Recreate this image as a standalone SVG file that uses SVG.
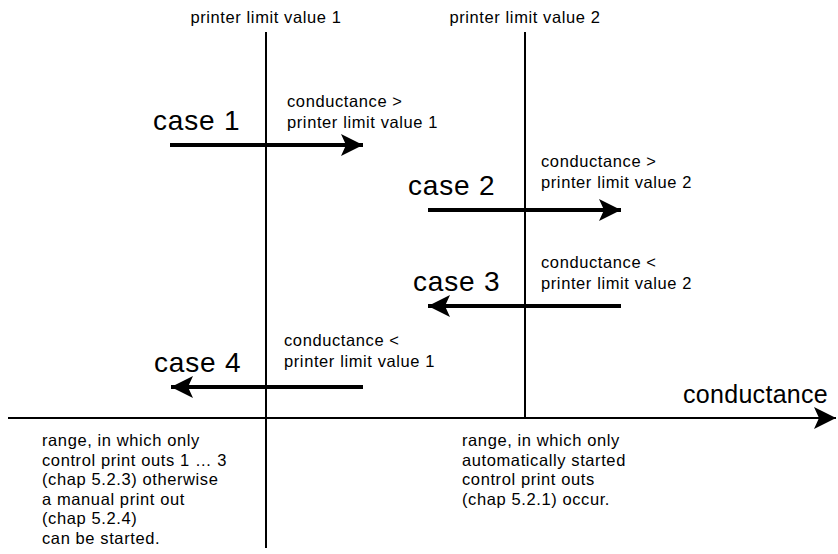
<svg xmlns="http://www.w3.org/2000/svg" width="838" height="554" viewBox="0 0 838 554">
<style>
text{font-family:"Liberation Sans",Arial,sans-serif;fill:#000}
.s{font-size:16.5px;letter-spacing:0.6px}
.c{font-size:28px;letter-spacing:0.8px}
.ax{stroke:#000;stroke-width:2;fill:none}
.ar{stroke:#000;stroke-width:4;fill:none}
</style>
<defs>
<marker id="ah" markerUnits="userSpaceOnUse" markerWidth="24" markerHeight="22" refX="22" refY="11" orient="auto">
<path d="M0,0 L22,11 L0,22 L5,11 Z" fill="#000"/>
</marker>
</defs>
<rect width="838" height="554" fill="#fff"/>
<g id="connectors">
<line class="ax" x1="266" y1="32" x2="266" y2="548"/>
<line class="ax" x1="525" y1="32" x2="525" y2="418"/>
<line class="ax" x1="8" y1="418" x2="836" y2="418" marker-end="url(#ah)"/>
<line class="ar" x1="170" y1="145" x2="363" y2="145" marker-end="url(#ah)"/>
<line class="ar" x1="428" y1="210" x2="621" y2="210" marker-end="url(#ah)"/>
<line class="ar" x1="621" y1="306" x2="428" y2="306" marker-end="url(#ah)"/>
<line class="ar" x1="363" y1="387" x2="171" y2="387" marker-end="url(#ah)"/>
</g>
<g id="limit1"><text class="s" x="266" y="23" text-anchor="middle">printer limit value 1</text></g>
<g id="limit2"><text class="s" x="525" y="23" text-anchor="middle">printer limit value 2</text></g>
<g id="case1">
<text class="c" x="153" y="130">case 1</text>
<text class="s" x="287" y="107">conductance &gt;</text>
<text class="s" x="287" y="128">printer limit value 1</text>
</g>
<g id="case2">
<text class="c" x="408" y="195">case 2</text>
<text class="s" x="541" y="167">conductance &gt;</text>
<text class="s" x="541" y="188">printer limit value 2</text>
</g>
<g id="case3">
<text class="c" x="413" y="291">case 3</text>
<text class="s" x="541" y="268">conductance &lt;</text>
<text class="s" x="541" y="289">printer limit value 2</text>
</g>
<g id="case4">
<text class="c" x="154" y="372">case 4</text>
<text class="s" x="284" y="346">conductance &lt;</text>
<text class="s" x="284" y="367">printer limit value 1</text>
</g>
<g id="axis-label"><text x="683" y="403" font-size="25" letter-spacing="0.3">conductance</text></g>
<g id="range-left">
<text class="s" x="42" y="446">range, in which only</text>
<text class="s" x="42" y="465.5">control print outs 1 … 3</text>
<text class="s" x="42" y="485">(chap 5.2.3) otherwise</text>
<text class="s" x="42" y="504.5">a manual print out</text>
<text class="s" x="42" y="524">(chap 5.2.4)</text>
<text class="s" x="42" y="543.5">can be started.</text>
</g>
<g id="range-right">
<text class="s" x="462" y="446">range, in which only</text>
<text class="s" x="462" y="465.5">automatically started</text>
<text class="s" x="462" y="485">control print outs</text>
<text class="s" x="462" y="504.5">(chap 5.2.1) occur.</text>
</g>
</svg>
